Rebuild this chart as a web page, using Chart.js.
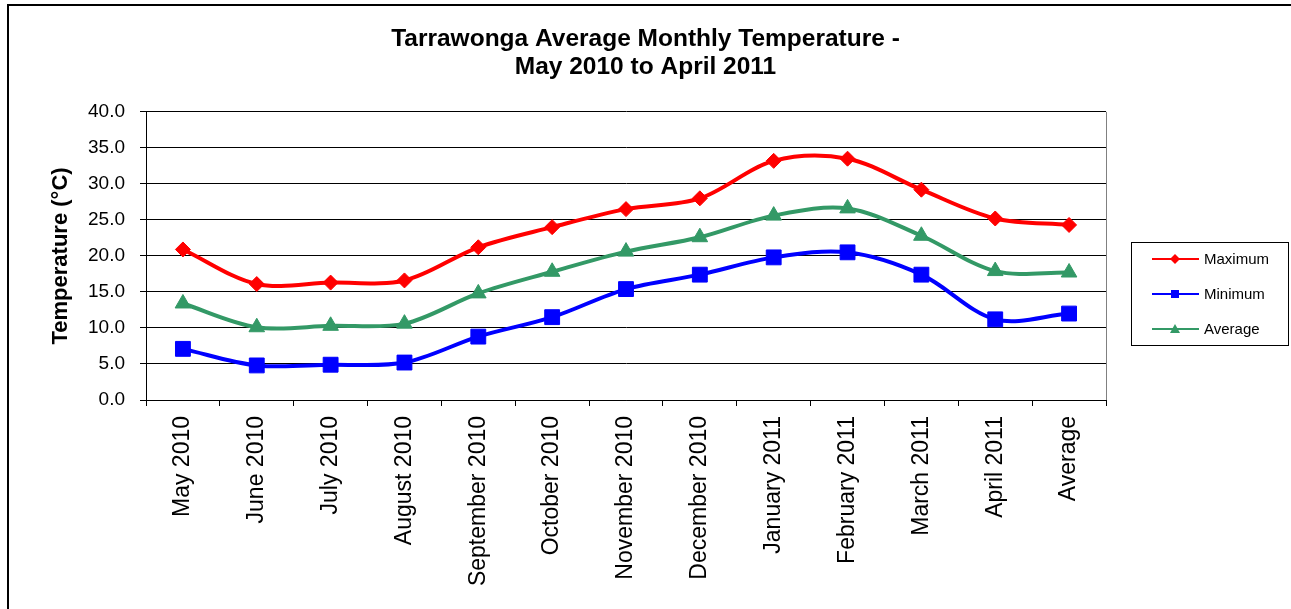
<!DOCTYPE html>
<html>
<head>
<meta charset="utf-8">
<script src="https://cdn.jsdelivr.net/npm/chart.js@4/dist/chart.umd.min.js"></script>
<style>
  html, body { margin: 0; padding: 0; background: #fff; }
  #wrap { position: relative; width: 1291px; height: 609px; }
</style>
</head>
<body>
<div id="wrap"><canvas id="tempChart"></canvas></div>
<script>
const months = ['May 2010', 'June 2010', 'July 2010', 'August 2010', 'September 2010', 'October 2010',
  'November 2010', 'December 2010', 'January 2011', 'February 2011', 'March 2011', 'April 2011', 'Average'];
const maximum = [20.9, 16.1, 16.3, 16.6, 21.2, 24.0, 26.5, 28.0, 33.2, 33.5, 29.2, 25.2, 24.3];
const minimum = [7.1, 4.8, 4.9, 5.2, 8.8, 11.5, 15.4, 17.4, 19.8, 20.5, 17.4, 11.2, 12.0];
const average = [13.4, 10.1, 10.3, 10.6, 14.8, 17.8, 20.6, 22.6, 25.6, 26.6, 22.8, 17.9, 17.7];
const yTicks = [0, 5, 10, 15, 20, 25, 30, 35, 40];

const FONT = "'Liberation Sans', Arial, sans-serif";
const RED = '#ff0000';
const BLUE = '#0000ff';
const GREEN = '#339966';

// little marker shapes for the boxed legend
const drawMarker = (ctx, style, x, y, r, color) => {
  ctx.save();
  ctx.fillStyle = color;
  ctx.beginPath();
  if (style === 'rectRot') {
    ctx.moveTo(x, y - r); ctx.lineTo(x + r, y); ctx.lineTo(x, y + r); ctx.lineTo(x - r, y);
  } else if (style === 'rect') {
    ctx.rect(x - r, y - r, r * 2, r * 2);
  } else {
    ctx.moveTo(x, y - r); ctx.lineTo(x + r, y + r * 0.8); ctx.lineTo(x - r, y + r * 0.8);
  }
  ctx.closePath();
  ctx.fill();
  ctx.restore();
};

const framePlugin = {
  id: 'frame',
  beforeDraw(chart) {
    const ctx = chart.ctx;
    ctx.save();
    ctx.fillStyle = '#fff';
    ctx.fillRect(0, 0, chart.width, chart.height);
    ctx.strokeStyle = '#000';
    ctx.lineWidth = 2;
    ctx.beginPath();
    ctx.moveTo(8, chart.height);
    ctx.lineTo(8, 5);
    ctx.lineTo(chart.width, 5);
    ctx.stroke();
    ctx.restore();
  },
  beforeDatasetsDraw(chart) {
    const { ctx, chartArea } = chart;
    ctx.save();
    ctx.strokeStyle = '#808080';
    ctx.lineWidth = 1;
    ctx.beginPath();
    ctx.moveTo(Math.round(chartArea.right) + 0.5, chartArea.top);
    ctx.lineTo(Math.round(chartArea.right) + 0.5, chartArea.bottom);
    ctx.stroke();
    ctx.restore();
  },
  afterDraw(chart) {
    const { ctx, chartArea } = chart;
    const left = chartArea.right + 25;
    const top = 242;
    ctx.save();
    ctx.strokeStyle = '#000';
    ctx.lineWidth = 1;
    ctx.strokeRect(left + 0.5, top + 0.5, 157, 103);
    ctx.font = '15px ' + FONT;
    ctx.textBaseline = 'middle';
    ctx.textAlign = 'left';
    chart.data.datasets.forEach((ds, i) => {
      const y = top + 17 + i * 35;
      ctx.strokeStyle = ds.borderColor;
      ctx.lineWidth = 2;
      ctx.beginPath();
      ctx.moveTo(left + 21, y);
      ctx.lineTo(left + 68, y);
      ctx.stroke();
      const r = ds.pointStyle === 'rect' ? 4 : 5;
      drawMarker(ctx, ds.pointStyle, left + 44, y, r, ds.borderColor);
      ctx.fillStyle = '#000';
      ctx.fillText(ds.label, left + 73, y + 1);
    });
    ctx.restore();
  }
};

const lineSet = (label, data, color, style, radius) => ({
  label,
  data,
  borderColor: color,
  backgroundColor: color,
  borderWidth: 4,
  pointStyle: style,
  pointRadius: radius,
  pointHoverRadius: radius,
  pointBorderWidth: 1,
  tension: 0.33
});

new Chart(document.getElementById('tempChart'), {
  type: 'line',
  data: {
    labels: months,
    datasets: [
      lineSet('Maximum', maximum, RED, 'rectRot', 7.5),
      lineSet('Minimum', minimum, BLUE, 'rect', 10.5),
      lineSet('Average', average, GREEN, 'triangle', 9)
    ]
  },
  options: {
    responsive: true,
    maintainAspectRatio: false,
    animation: false,
    layout: { padding: 0 },
    plugins: {
      legend: { display: false },
      tooltip: { enabled: false },
      title: {
        display: true,
        text: ['Tarrawonga Average Monthly Temperature -', 'May 2010 to April 2011'],
        color: '#000',
        font: { family: FONT, size: 24.5, weight: 'bold', lineHeight: 1.12 },
        padding: { top: 26, bottom: 31 }
      }
    },
    scales: {
      x: {
        offset: true,
        grid: { offset: true, drawOnChartArea: false, color: '#000', tickLength: 6 },
        border: { color: '#000', width: 1 },
        ticks: {
          color: '#000',
          font: { family: FONT, size: 23 },
          maxRotation: 90,
          minRotation: 90,
          padding: 10,
          autoSkip: false
        },
        afterFit: (scale) => { scale.height = 209; }
      },
      y: {
        min: 0,
        max: 40,
        afterBuildTicks: (scale) => { scale.ticks = yTicks.map(v => ({ value: v })); },
        grid: { color: '#000', tickLength: 6 },
        border: { color: '#000', width: 1 },
        ticks: {
          color: '#000',
          font: { family: FONT, size: 19 },
          padding: 15,
          callback: (v) => v.toFixed(1)
        },
        title: {
          display: true,
          text: 'Temperature (°C)',
          color: '#000',
          font: { family: FONT, size: 22, weight: 'bold' },
          padding: { top: 48, bottom: 0 }
        },
        afterFit: (scale) => { scale.width = 146; }
      },
      // empty axis that keeps room on the right for the boxed legend
      legendRoom: {
        type: 'linear',
        position: 'right',
        grid: { display: false },
        border: { display: false },
        ticks: { display: false },
        afterFit: (scale) => { scale.width = 185; }
      }
    }
  },
  plugins: [framePlugin]
});
</script>
</body>
</html>
